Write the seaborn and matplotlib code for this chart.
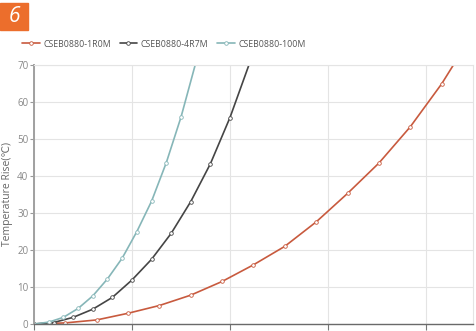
import numpy as np
import pandas as pd
import matplotlib
matplotlib.use("Agg")
import matplotlib.pyplot as plt
from matplotlib.patches import Rectangle
import seaborn as sns

sns.set_theme(style="white")
plt.rcParams["font.family"] = ["Open Sans", "DejaVu Sans"]

# ==================================================
# DATA
# ==================================================

names = ["CSEB0880-1R0M", "CSEB0880-4R7M", "CSEB0880-100M"]
colors = ["#c85a3e", "#454545", "#86b6b8"]

x_1r0 = [0, 1.6, 3.2, 4.8, 6.4, 8.0, 9.6, 11.2, 12.8, 14.4, 16.0, 17.6, 19.2, 20.8, 22.4]
y_1r0 = [0, 0.3, 1.1, 2.9, 5.0, 7.8, 11.5, 16.0, 21.0, 27.6, 35.3, 43.5, 53.3, 64.9, 78.5]

x_4r7 = [0, 1, 2, 3, 4, 5, 6, 7, 8, 9, 10, 11]
y_4r7 = [0, 0.4, 1.8, 4.0, 7.2, 11.9, 17.5, 24.5, 33.1, 43.3, 55.8, 70.5]

x_100 = [0, 0.75, 1.5, 2.25, 3.0, 3.75, 4.5, 5.25, 6.0, 6.75, 7.5, 8.25]
y_100 = [0, 0.5, 1.8, 4.2, 7.6, 12.2, 17.8, 25.0, 33.2, 43.6, 55.9, 70.5]

x_ticks = [0, 5, 10, 15, 20]
y_ticks = [0, 10, 20, 30, 40, 50, 60, 70]

series = [(x_1r0, y_1r0), (x_4r7, y_4r7), (x_100, y_100)]

# ==================================================
# PLOT
# ==================================================

fig = plt.figure(figsize=(4.77, 3.31), dpi=100)
ax = fig.add_axes([34 / 477, 7 / 331, 439 / 477, 259 / 331])

for name, color, (xs, ys) in zip(names, colors, series):
    df = pd.DataFrame({"x": xs, "y": ys})
    sns.lineplot(
        data=df, x="x", y="y", ax=ax, sort=False,
        color=color, linewidth=1.2, marker="o", markersize=2.6,
        markerfacecolor="white", markeredgecolor=color, markeredgewidth=0.6,
        label=name, legend=False,
    )

ax.set_xlim(0, 22.4)
ax.set_ylim(0, 70)
ax.set_xticks(x_ticks)
ax.set_yticks(y_ticks)
ax.grid(True, color="#e4e4e4", linewidth=0.8)
ax.set_axisbelow(True)

ax.tick_params(axis="y", left=True, length=3, width=0.8, color="#999999",
               labelsize=7, labelcolor="#888888", pad=1)
# the x tick labels fall below the cropped picture, so only the marks show
ax.tick_params(axis="x", bottom=True, length=4, width=0.8, color="#777777",
               labelbottom=False)

for side in ["top", "right"]:
    ax.spines[side].set_color("#e4e4e4")
    ax.spines[side].set_linewidth(0.8)
ax.spines["left"].set_color("#a0a0a0")
ax.spines["left"].set_linewidth(1.4)
ax.spines["bottom"].set_color("#6a6a6a")
ax.spines["bottom"].set_linewidth(1.0)

ax.set_xlabel("")
ax.set_ylabel("Temperature Rise(℃)", fontsize=7.5, color="#666666")
ax.yaxis.set_label_coords(-0.047, 0.5)

# legend at the top
handles, labels = ax.get_legend_handles_labels()
fig.legend(
    handles, labels, loc="center left", bbox_to_anchor=(0.03, 0.867),
    ncol=3, frameon=False, fontsize=6.3, handlelength=2.0,
    handletextpad=0.4, columnspacing=1.0, labelcolor="#555555",
)

# orange number badge
fig.patches.append(Rectangle((0, 1 - 30 / 331), 28 / 477, 27 / 331,
                             transform=fig.transFigure, color="#ec6e2c",
                             zorder=0))
fig.text(14 / 477, 1 - 16.5 / 331, "6", color="white", fontsize=15,
         style="italic", ha="center", va="center")

plt.savefig("out.png", dpi=100)
plt.close()
